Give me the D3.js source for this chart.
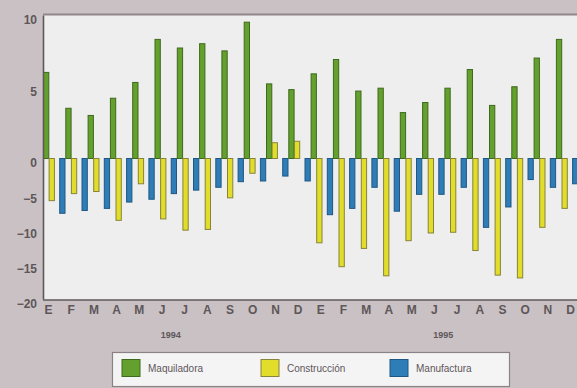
<!DOCTYPE html>
<html>
<head>
<meta charset="utf-8">
<script src="https://cdn.jsdelivr.net/npm/d3@7"></script>
<style>
  html, body { margin: 0; padding: 0; background: #c9c1c3; }
  svg { display: block; }
  text { font-family: "Liberation Sans", Arial, sans-serif; }
</style>
</head>
<body>
<svg id="chart" width="577" height="388"></svg>
<script>
// Monthly percentage changes, 1994–1995
const years = ["1994", "1995"];
const monthLetters = ["E", "F", "M", "A", "M", "J", "J", "A", "S", "O", "N", "D"];
const seriesNames = ["Maquiladora", "Construcción", "Manufactura"];
const maquiladora = [6.0, 3.5, 3.0, 4.2, 5.3, 8.3, 7.7, 8.0, 7.5, 9.5, 5.2, 4.8,
                     5.9, 6.9, 4.7, 4.9, 3.2, 3.9, 4.9, 6.2, 3.7, 5.0, 7.0, 8.3];
const construccion = [-6.0, -5.0, -4.7, -8.8, -3.6, -8.6, -10.2, -10.1, -5.6, -2.1, 1.1, 1.2,
                      -12.0, -15.4, -12.8, -16.7, -11.7, -10.6, -10.5, -13.1, -16.6, -17.0, -9.8, -7.1];
const manufactura = [-7.8, -7.4, -7.1, -6.2, -5.8, -5.0, -4.5, -4.1, -3.3, -3.2, -2.5, -3.2,
                     -8.0, -7.1, -4.1, -7.5, -5.1, -5.1, -4.1, -9.8, -6.9, -3.0, -4.1, -3.6];
const yTicks = [-20, -15, -10, -5, 0, 5, 10];

const colors = {
  "Maquiladora":  { fill: "#63a02e", stroke: "#3e6a1d" },
  "Construcción": { fill: "#e2dd2a", stroke: "#86843a" },
  "Manufactura":  { fill: "#2e7db6", stroke: "#1e5784" }
};
const valuesBySeries = {
  "Maquiladora": maquiladora,
  "Construcción": construccion,
  "Manufactura": manufactura
};

// one category per month of both years
const categories = [];
years.forEach(y => monthLetters.forEach((m, i) => categories.push({ key: y + "-" + i, year: y, letter: m })));

const svg = d3.select("#chart");

const plot = { left: 43, right: 580, top: 15, bottom: 300 };

// bar groups
const x = d3.scaleBand()
  .domain(categories.map(d => d.key))
  .range([plot.left, plot.left + 22.3 * categories.length])
  .paddingInner(0).paddingOuter(0);

// offset of each series inside a month group
const xSub = d3.scaleOrdinal().domain(seriesNames).range([0, 5.6, 16.2]);
const barW = 6.3;

// month letters sit on a slightly wider spacing
const xLabel = d3.scalePoint()
  .domain(categories.map(d => d.key))
  .range([48, 570]);

// the positive side is stretched relative to the negative side
const y = d3.scaleLinear()
  .domain([-20, 0, 10])
  .range([plot.bottom - 1, 158.5, plot.top]);

// plot panel
svg.append("rect")
  .attr("x", plot.left).attr("y", plot.top)
  .attr("width", plot.right - plot.left).attr("height", plot.bottom - plot.top)
  .attr("fill", "#efeeef");

// top edge shade
svg.append("line")
  .attr("x1", plot.left).attr("x2", plot.right)
  .attr("y1", plot.top - 0.5).attr("y2", plot.top - 0.5)
  .attr("stroke", "#8f878a").attr("stroke-width", 2);

// bars
const barData = [];
categories.forEach((c, i) => {
  seriesNames.forEach(s => barData.push({ cat: c.key, series: s, value: valuesBySeries[s][i] }));
});

svg.append("g").selectAll("rect")
  .data(barData)
  .join("rect")
  .attr("x", d => x(d.cat) + xSub(d.series) + 0.5)
  .attr("y", d => y(Math.max(0, d.value)))
  .attr("width", barW - 1)
  .attr("height", d => Math.abs(y(d.value) - y(0)))
  .attr("fill", d => colors[d.series].fill)
  .attr("stroke", d => colors[d.series].stroke)
  .attr("stroke-width", 1);

// y axis
const yAxis = d3.axisLeft(y).tickValues(yTicks).tickSize(0).tickPadding(6).tickFormat(d3.format("d"));
const gy = svg.append("g")
  .attr("transform", `translate(${plot.left},0)`)
  .call(yAxis);
gy.select(".domain").attr("stroke", "#5f5759").attr("stroke-width", 1.6);
gy.selectAll("text")
  .attr("dy", "0.7em")
  .attr("font-size", 12)
  .attr("font-weight", "bold")
  .attr("fill", "#5e5659");

// bottom axis line
svg.append("line")
  .attr("x1", plot.left).attr("x2", plot.right)
  .attr("y1", plot.bottom).attr("y2", plot.bottom)
  .attr("stroke", "#5f5759").attr("stroke-width", 1.6);

// month letters
const xAxis = d3.axisBottom(xLabel).tickSize(0).tickPadding(5)
  .tickFormat(k => categories.find(c => c.key === k).letter);
const gx = svg.append("g")
  .attr("transform", `translate(0,${plot.bottom})`)
  .call(xAxis);
gx.select(".domain").remove();
gx.selectAll("text")
  .attr("font-size", 12)
  .attr("font-weight", "bold")
  .attr("fill", "#5e5659");

// year labels centred under each year
years.forEach(yr => {
  const keys = categories.filter(c => c.year === yr).map(c => c.key);
  const cx = (xLabel(keys[0]) + xLabel(keys[keys.length - 1])) / 2 - 2;
  svg.append("text")
    .attr("x", cx).attr("y", 338)
    .attr("text-anchor", "middle")
    .attr("font-size", 9)
    .attr("font-weight", "bold")
    .attr("fill", "#5e5659")
    .text(yr);
});

// legend
const legend = svg.append("g");
legend.append("rect")
  .attr("x", 112.5).attr("y", 352.5)
  .attr("width", 397).attr("height", 34)
  .attr("fill", "#f5f4f5")
  .attr("stroke", "#8a8285").attr("stroke-width", 1.2);

const legendX = [122, 261, 390];
seriesNames.forEach((s, i) => {
  legend.append("rect")
    .attr("x", legendX[i]).attr("y", 359.5)
    .attr("width", 18).attr("height", 17)
    .attr("fill", colors[s].fill)
    .attr("stroke", colors[s].stroke).attr("stroke-width", 1);
  legend.append("text")
    .attr("x", legendX[i] + 26).attr("y", 372)
    .attr("font-size", 10)
    .attr("fill", "#5e5659")
    .text(s);
});
</script>
</body>
</html>
